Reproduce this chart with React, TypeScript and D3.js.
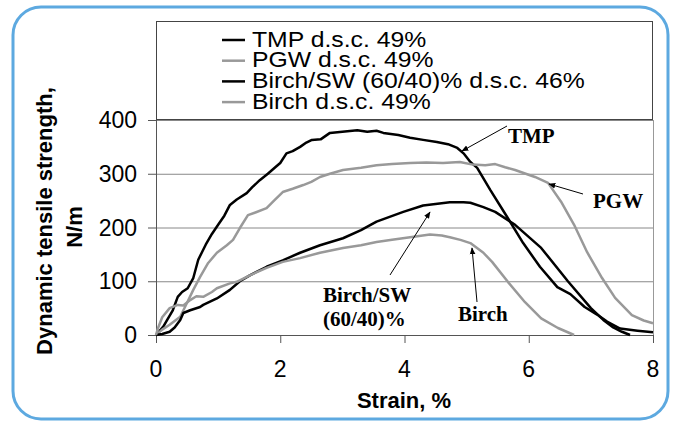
import React from "react";
import * as d3 from "d3";

// ---- Data ----
const tmpStrain = [0, 0.06, 0.12, 0.18, 0.27, 0.35, 0.42, 0.51, 0.6, 0.68, 0.74, 0.8, 0.9, 1.0, 1.1, 1.19, 1.3, 1.46, 1.55, 1.67, 1.8, 1.92, 2.0, 2.1, 2.2, 2.32, 2.42, 2.51, 2.65, 2.8, 3.0, 3.24, 3.4, 3.55, 3.66, 3.9, 4.09, 4.3, 4.52, 4.7, 4.85, 4.95, 5.06, 5.17, 5.38, 5.65, 5.91, 6.18, 6.46, 6.67, 6.9, 7.1, 7.26, 7.47, 7.75, 8.0];
const tmpStrength = [0, 8, 16, 28, 46, 71, 80, 87, 106, 140, 154, 168, 188, 205, 222, 242, 252, 264, 275, 288, 300, 312, 320, 338, 342, 350, 358, 363, 364, 376, 378, 381, 378, 380, 376, 372, 367, 363, 359, 355, 348, 338, 322, 311, 270, 220, 171, 127, 89, 76, 52, 38, 25, 12, 8, 5];

const pgwStrain = [0, 0.1, 0.22, 0.39, 0.5, 0.6, 0.71, 0.84, 0.98, 1.14, 1.24, 1.35, 1.48, 1.6, 1.78, 1.9, 2.04, 2.2, 2.37, 2.5, 2.64, 2.8, 3.01, 3.3, 3.55, 3.8, 4.09, 4.35, 4.62, 4.89, 5.1, 5.3, 5.46, 5.62, 5.78, 6.1, 6.31, 6.52, 6.73, 6.94, 7.18, 7.39, 7.66, 7.85, 8.0];
const pgwStrength = [0, 10, 19, 34, 60, 84, 108, 134, 153, 167, 177, 199, 223, 228, 236, 250, 266, 272, 279, 285, 294, 300, 307, 311, 316, 318, 320, 321, 320, 322, 317, 316, 318, 312, 307, 294, 283, 248, 205, 154, 106, 69, 37, 27, 22];

const birchSwStrain = [0, 0.1, 0.22, 0.3, 0.39, 0.44, 0.55, 0.71, 0.76, 0.98, 1.19, 1.35, 1.51, 1.78, 2.04, 2.32, 2.64, 3.01, 3.3, 3.55, 3.98, 4.3, 4.73, 4.95, 5.06, 5.27, 5.46, 5.78, 6.2, 6.63, 7.0, 7.2, 7.36, 7.5, 7.63];
const birchSwStrength = [0, 2, 6, 14, 28, 41, 46, 52, 56, 68, 84, 100, 111, 127, 139, 153, 167, 180, 195, 211, 229, 241, 247, 247, 246, 238, 229, 205, 162, 100, 50, 28, 14, 6, 0];

const birchStrain = [0, 0.03, 0.1, 0.22, 0.35, 0.44, 0.55, 0.65, 0.76, 0.9, 0.98, 1.19, 1.3, 1.51, 1.78, 2.04, 2.32, 2.64, 3.01, 3.3, 3.55, 3.8, 4.09, 4.41, 4.6, 4.73, 4.9, 5.06, 5.27, 5.41, 5.67, 5.94, 6.2, 6.47, 6.73];
const birchStrength = [0, 12, 33, 50, 56, 55, 65, 72, 71, 80, 87, 96, 99, 111, 125, 136, 143, 153, 162, 167, 173, 177, 182, 187, 185, 182, 177, 171, 153, 136, 98, 61, 31, 13, 0];

const seriesNames = ["TMP d.s.c. 49%", "PGW d.s.c. 49%", "Birch/SW (60/40)% d.s.c. 46%", "Birch d.s.c. 49%"];
const seriesColors = ["#000000", "#999999", "#000000", "#999999"];
const xTicks = [0, 2, 4, 6, 8];
const yTicks = [0, 100, 200, 300, 400];

const annotationLabels = ["TMP", "PGW", "Birch/SW", "(60/40)%", "Birch"];

export default function App() {
  const W = 675;
  const H = 421;
  const x = d3.scaleLinear().domain([0, 8]).range([156, 653]);
  const y = d3.scaleLinear().domain([0, 400]).range([335, 120]);

  const series = [
    { xs: tmpStrain, ys: tmpStrength },
    { xs: pgwStrain, ys: pgwStrength },
    { xs: birchSwStrain, ys: birchSwStrength },
    { xs: birchStrain, ys: birchStrength },
  ];
  const line = d3
    .line<[number, number]>()
    .x((d) => x(d[0]))
    .y((d) => y(d[1]));

  const sans = "'Liberation Sans', Arial, sans-serif";
  const serif = "'Liberation Serif', 'Times New Roman', serif";

  // arrows: tail -> head, in data units
  const arrows = [
    [x.invert(507), y.invert(126), x.invert(462), y.invert(151)],
    [x.invert(583), y.invert(194), x.invert(549), y.invert(184)],
    [x.invert(390), y.invert(275), x.invert(430), y.invert(212)],
    [x.invert(477), y.invert(302), x.invert(472), y.invert(248)],
  ];

  return (
    <svg
      width={W}
      height={H}
      style={{ position: "absolute", left: 0, top: 0, background: "#fff" }}
    >
      <defs>
        <marker
          id="ah"
          viewBox="0 0 10 10"
          refX="9"
          refY="5"
          markerWidth="7"
          markerHeight="7"
          orient="auto"
          markerUnits="userSpaceOnUse"
        >
          <path d="M0,1 L10,5 L0,9 z" fill="#000" />
        </marker>
      </defs>
      <rect x={0} y={0} width={W} height={H} fill="#fff" />
      <rect
        x={13}
        y={7}
        width={655}
        height={412}
        rx={28}
        ry={28}
        fill="#fff"
        stroke="#5DA9E0"
        strokeWidth={3}
      />

      {/* legend box */}
      <rect x={156.5} y={21.5} width={496} height={98} fill="#fff" stroke="#444" strokeWidth={1} />
      {seriesNames.map((name, i) => {
        const yy = 40 + i * 20.7;
        return (
          <g key={name}>
            <line x1={222} x2={245} y1={yy} y2={yy} stroke={seriesColors[i]} strokeWidth={2.5} />
            <text
              transform={`translate(252,${yy + 6.5}) scale(1.1,1)`}
              fontFamily={sans}
              fontSize={22.5}
              fill="#000"
            >
              {name}
            </text>
          </g>
        );
      })}

      {/* grid */}
      {yTicks
        .filter((t) => t > 0)
        .map((t) => (
          <line key={t} x1={x(0)} x2={x(8)} y1={y(t) + 0.5} y2={y(t) + 0.5} stroke="#888" strokeWidth={1} />
        ))}
      <line x1={x(8) + 0.5} x2={x(8) + 0.5} y1={y(400)} y2={y(0)} stroke="#999" strokeWidth={1} />

      {/* axes */}
      <line x1={x(0) + 0.5} x2={x(0) + 0.5} y1={y(400)} y2={y(0)} stroke="#555" strokeWidth={1} />
      <line x1={x(0)} x2={x(8)} y1={y(0) + 0.5} y2={y(0) + 0.5} stroke="#555" strokeWidth={1} />
      {yTicks.map((t) => (
        <g key={"yt" + t}>
          <line x1={x(0) - 8} x2={x(0)} y1={y(t) + 0.5} y2={y(t) + 0.5} stroke="#555" />
          <text
            x={137}
            y={y(t) + 8}
            textAnchor="end"
            fontFamily={sans}
            fontSize={23}
            fill="#000"
          >
            {t}
          </text>
        </g>
      ))}
      {xTicks.map((t) => (
        <g key={"xt" + t}>
          <line x1={x(t) + 0.5} x2={x(t) + 0.5} y1={y(0)} y2={y(0) + 8} stroke="#555" />
          <text
            x={x(t)}
            y={377}
            textAnchor="middle"
            fontFamily={sans}
            fontSize={23}
            fill="#000"
          >
            {t}
          </text>
        </g>
      ))}

      {/* series */}
      {series.map((s, i) => (
        <path
          key={i}
          d={line(s.xs.map((v, j) => [v, s.ys[j]] as [number, number])) || ""}
          fill="none"
          stroke={seriesColors[i]}
          strokeWidth={2.5}
          strokeLinejoin="round"
        />
      ))}

      {/* annotations */}
      {arrows.map((a, i) => (
        <line
          key={"ar" + i}
          x1={x(a[0])}
          y1={y(a[1])}
          x2={x(a[2])}
          y2={y(a[3])}
          stroke="#000"
          strokeWidth={1}
          markerEnd="url(#ah)"
        />
      ))}
      <text x={508} y={143} fontFamily={serif} fontWeight="bold" fontSize={21}>
        {annotationLabels[0]}
      </text>
      <text x={593} y={208} fontFamily={serif} fontWeight="bold" fontSize={21}>
        {annotationLabels[1]}
      </text>
      <text x={323} y={302} fontFamily={serif} fontWeight="bold" fontSize={21}>
        {annotationLabels[2]}
      </text>
      <text x={323} y={326} fontFamily={serif} fontWeight="bold" fontSize={21}>
        {annotationLabels[3]}
      </text>
      <text x={458} y={321} fontFamily={serif} fontWeight="bold" fontSize={21}>
        {annotationLabels[4]}
      </text>

      {/* axis titles */}
      <text x={404} y={408} textAnchor="middle" fontFamily={sans} fontWeight="bold" fontSize={22}>
        Strain, %
      </text>
      <text
        transform="translate(52,221) rotate(-90)"
        textAnchor="middle"
        fontFamily={sans}
        fontWeight="bold"
        fontSize={22}
      >
        Dynamic tensile strength,
      </text>
      <text
        transform="translate(82,227) rotate(-90)"
        textAnchor="middle"
        fontFamily={sans}
        fontWeight="bold"
        fontSize={22}
      >
        N/m
      </text>
    </svg>
  );
}
